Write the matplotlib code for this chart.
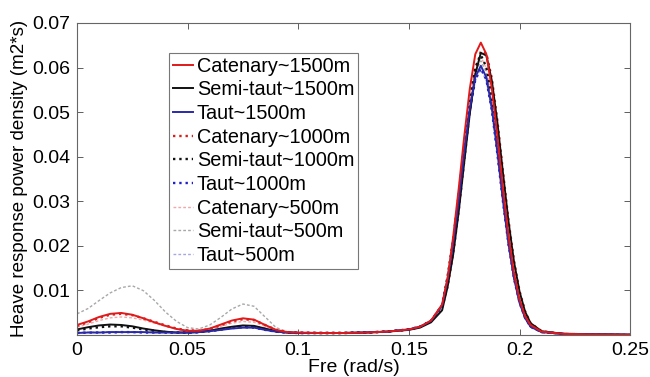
import numpy as np
import matplotlib.pyplot as plt

plt.rcParams['font.family'] = ['Liberation Sans', 'DejaVu Sans']

# frequency grid (rad/s)
freq = [0, 0.005, 0.01, 0.015, 0.02, 0.025, 0.03, 0.035, 0.04, 0.045, 0.05,
        0.055, 0.06, 0.065, 0.07, 0.075, 0.08, 0.085, 0.09, 0.095, 0.1,
        0.11, 0.12, 0.13, 0.14, 0.15, 0.155, 0.16, 0.165,
        0.1675, 0.17, 0.1725, 0.175, 0.1775, 0.18, 0.1825, 0.185, 0.1875,
        0.19, 0.1925, 0.195, 0.1975, 0.2, 0.2025,
        0.205, 0.21, 0.22, 0.23, 0.25]

# heave response spectra
cat_1500 = [0.0022, 0.003, 0.004, 0.0047, 0.0049, 0.0045, 0.0037, 0.0028, 0.002, 0.0013, 0.0009,
            0.0009, 0.0014, 0.0023, 0.0032, 0.0037, 0.0034, 0.0022, 0.0011, 0.0006, 0.0005,
            0.0004, 0.0004, 0.0005, 0.0007, 0.0012, 0.0018, 0.0032, 0.0068,
            0.0128, 0.022, 0.0328, 0.0445, 0.0552, 0.063, 0.0656, 0.063, 0.0552,
            0.0445, 0.0328, 0.0223, 0.0138, 0.0079, 0.0042,
            0.0022, 0.0007, 0.0002, 0.0001, 0.0]
semi_1500 = [0.0012, 0.0017, 0.0021, 0.0023, 0.0022, 0.0019, 0.0014, 0.001, 0.0007, 0.0005, 0.0005,
             0.0006, 0.0009, 0.0014, 0.0018, 0.0021, 0.002, 0.0014, 0.0008, 0.0005, 0.0004,
             0.0004, 0.0004, 0.0005, 0.0007, 0.0011, 0.0016, 0.0028, 0.0055,
             0.0108, 0.018, 0.0276, 0.0387, 0.0496, 0.0585, 0.0633, 0.0627, 0.057,
             0.0476, 0.0364, 0.0255, 0.0164, 0.0097, 0.0052,
             0.0026, 0.0008, 0.0002, 0.0001, 0.0]
taut_1500 = [0.0004, 0.0005, 0.0005, 0.0006, 0.0006, 0.0006, 0.0006, 0.0005, 0.0005, 0.0005, 0.0005,
             0.0006, 0.0008, 0.0011, 0.0014, 0.0016, 0.0016, 0.0011, 0.0007, 0.0005, 0.0004,
             0.0004, 0.0004, 0.0005, 0.0007, 0.0012, 0.0018, 0.0031, 0.0066,
             0.0125, 0.0205, 0.0302, 0.041, 0.0508, 0.0578, 0.0604, 0.0578, 0.0508,
             0.041, 0.0302, 0.0205, 0.0127, 0.0072, 0.0038,
             0.0018, 0.0006, 0.0002, 0.0001, 0.0]
cat_1000 = [0.002, 0.0028, 0.0038, 0.0045, 0.0047, 0.0044, 0.0037, 0.0029, 0.0021, 0.0014, 0.001,
            0.0009, 0.0013, 0.0021, 0.003, 0.0035, 0.0033, 0.0022, 0.0011, 0.0006, 0.0005,
            0.0004, 0.0004, 0.0005, 0.0007, 0.0012, 0.0018, 0.0031, 0.006,
            0.0109, 0.0182, 0.0278, 0.039, 0.05, 0.059, 0.0637, 0.0632, 0.0575,
            0.048, 0.0367, 0.0257, 0.0166, 0.0098, 0.0053,
            0.0026, 0.0008, 0.0002, 0.0001, 0.0]
semi_1000 = [0.001, 0.0014, 0.0017, 0.0019, 0.0019, 0.0016, 0.0012, 0.0009, 0.0006, 0.0005, 0.0005,
             0.0006, 0.0008, 0.0012, 0.0016, 0.0019, 0.0018, 0.0013, 0.0007, 0.0005, 0.0004,
             0.0004, 0.0004, 0.0005, 0.0007, 0.0012, 0.0018, 0.0031, 0.0066,
             0.0132, 0.0213, 0.0314, 0.0426, 0.0528, 0.0601, 0.0628, 0.0601, 0.0528,
             0.0426, 0.0314, 0.0213, 0.0133, 0.0075, 0.0039,
             0.0019, 0.0006, 0.0002, 0.0001, 0.0]
taut_1000 = [0.0004, 0.0005, 0.0005, 0.0005, 0.0006, 0.0006, 0.0005, 0.0005, 0.0005, 0.0005, 0.0005,
             0.0006, 0.0009, 0.0012, 0.0015, 0.0017, 0.0016, 0.0011, 0.0007, 0.0005, 0.0004,
             0.0004, 0.0004, 0.0005, 0.0007, 0.0012, 0.0018, 0.0031, 0.0066,
             0.0124, 0.0203, 0.0299, 0.0405, 0.0503, 0.0573, 0.0598, 0.0573, 0.0503,
             0.0405, 0.0299, 0.0203, 0.0126, 0.0072, 0.0038,
             0.0018, 0.0006, 0.0002, 0.0001, 0.0]
cat_500 = [0.0017, 0.0024, 0.0032, 0.0038, 0.004, 0.0038, 0.0033, 0.0026, 0.0019, 0.0013, 0.001,
           0.001, 0.0013, 0.0019, 0.0026, 0.003, 0.0028, 0.0019, 0.001, 0.0006, 0.0005,
           0.0004, 0.0004, 0.0005, 0.0007, 0.0012, 0.0018, 0.0031, 0.0065,
           0.0131, 0.0212, 0.0313, 0.0424, 0.0526, 0.0598, 0.0625, 0.0598, 0.0526,
           0.0424, 0.0313, 0.0212, 0.0132, 0.0075, 0.0039,
           0.0019, 0.0006, 0.0002, 0.0001, 0.0]
semi_500 = [0.0047, 0.0059, 0.0077, 0.0094, 0.0106, 0.011, 0.0099, 0.0077, 0.0051, 0.003, 0.0016,
            0.0013, 0.0022, 0.0039, 0.0058, 0.0069, 0.0064, 0.004, 0.0016, 0.0007, 0.0005,
            0.0004, 0.0004, 0.0005, 0.0007, 0.0012, 0.0018, 0.0031, 0.0064,
            0.0129, 0.0208, 0.0308, 0.0417, 0.0517, 0.0589, 0.0615, 0.0589, 0.0517,
            0.0417, 0.0308, 0.0208, 0.013, 0.0074, 0.0039,
            0.0018, 0.0006, 0.0002, 0.0001, 0.0]
taut_500 = [0.0005, 0.0006, 0.0006, 0.0007, 0.0007, 0.0007, 0.0006, 0.0006, 0.0005, 0.0005, 0.0005,
            0.0007, 0.001, 0.0014, 0.0018, 0.002, 0.0019, 0.0013, 0.0008, 0.0005, 0.0004,
            0.0004, 0.0004, 0.0005, 0.0007, 0.0012, 0.0018, 0.0031, 0.0064,
            0.0125, 0.0202, 0.0298, 0.0403, 0.05, 0.057, 0.0595, 0.057, 0.05,
            0.0403, 0.0298, 0.0202, 0.0126, 0.0071, 0.0037,
            0.0018, 0.0006, 0.0002, 0.0001, 0.0]

labels = ['Catenary~1500m', 'Semi-taut~1500m', 'Taut~1500m',
          'Catenary~1000m', 'Semi-taut~1000m', 'Taut~1000m',
          'Catenary~500m', 'Semi-taut~500m', 'Taut~500m']
series = [cat_1500, semi_1500, taut_1500, cat_1000, semi_1000, taut_1000,
          cat_500, semi_500, taut_500]

styles = [
    dict(color='#e01a1a', ls='-', lw=1.4),
    dict(color='#111111', ls='-', lw=1.4),
    dict(color='#2a2aa8', ls='-', lw=1.4),
    dict(color='#d62020', ls=':', lw=1.7),
    dict(color='#111111', ls=':', lw=1.7),
    dict(color='#2020c8', ls=':', lw=1.7),
    dict(color='#f0a8a8', ls='--', lw=1.0, dashes=(2, 1.5)),
    dict(color='#a8a8a8', ls='--', lw=1.0, dashes=(2, 1.5)),
    dict(color='#a8a8e0', ls='--', lw=1.0, dashes=(2, 1.5)),
]

fig = plt.figure(figsize=(6.5, 3.77), dpi=100)
ax = fig.add_axes([0.1185, 0.112, 0.851, 0.827])

# 500m first so the 1500m solids sit on top
lines = [None] * 9
for i in [6, 7, 8, 3, 4, 5, 1, 2, 0]:
    lines[i], = ax.plot(freq, series[i], label=labels[i], **styles[i])

ax.set_xlim(0, 0.25)
ax.set_ylim(0, 0.07)
ax.set_xticks([0, 0.05, 0.1, 0.15, 0.2, 0.25])
ax.set_xticklabels(['0', '0.05', '0.1', '0.15', '0.2', '0.25'])
ax.set_yticks([0.01, 0.02, 0.03, 0.04, 0.05, 0.06, 0.07])
ax.set_yticklabels(['0.01', '0.02', '0.03', '0.04', '0.05', '0.06', '0.07'])
ax.tick_params(direction='in', length=4, width=0.6, top=True, right=True,
               labelsize=14, pad=5, color='#444444')
for s in ax.spines.values():
    s.set_color('#666666')
    s.set_linewidth(0.8)

ax.set_xlabel('Fre (rad/s)', fontsize=14, labelpad=0)
ax.set_ylabel('Heave response power density (m2*s)', fontsize=13.5, labelpad=3)

leg = ax.legend(handles=lines, loc='upper left', bbox_to_anchor=(0.166, 0.905),
                borderaxespad=0, fontsize=14.3, frameon=True, fancybox=False,
                edgecolor='#555555', handlelength=1.0, handletextpad=0.2,
                labelspacing=0.235, borderpad=0.2)
leg.get_frame().set_linewidth(0.8)

fig.savefig('out.png', dpi=100)
